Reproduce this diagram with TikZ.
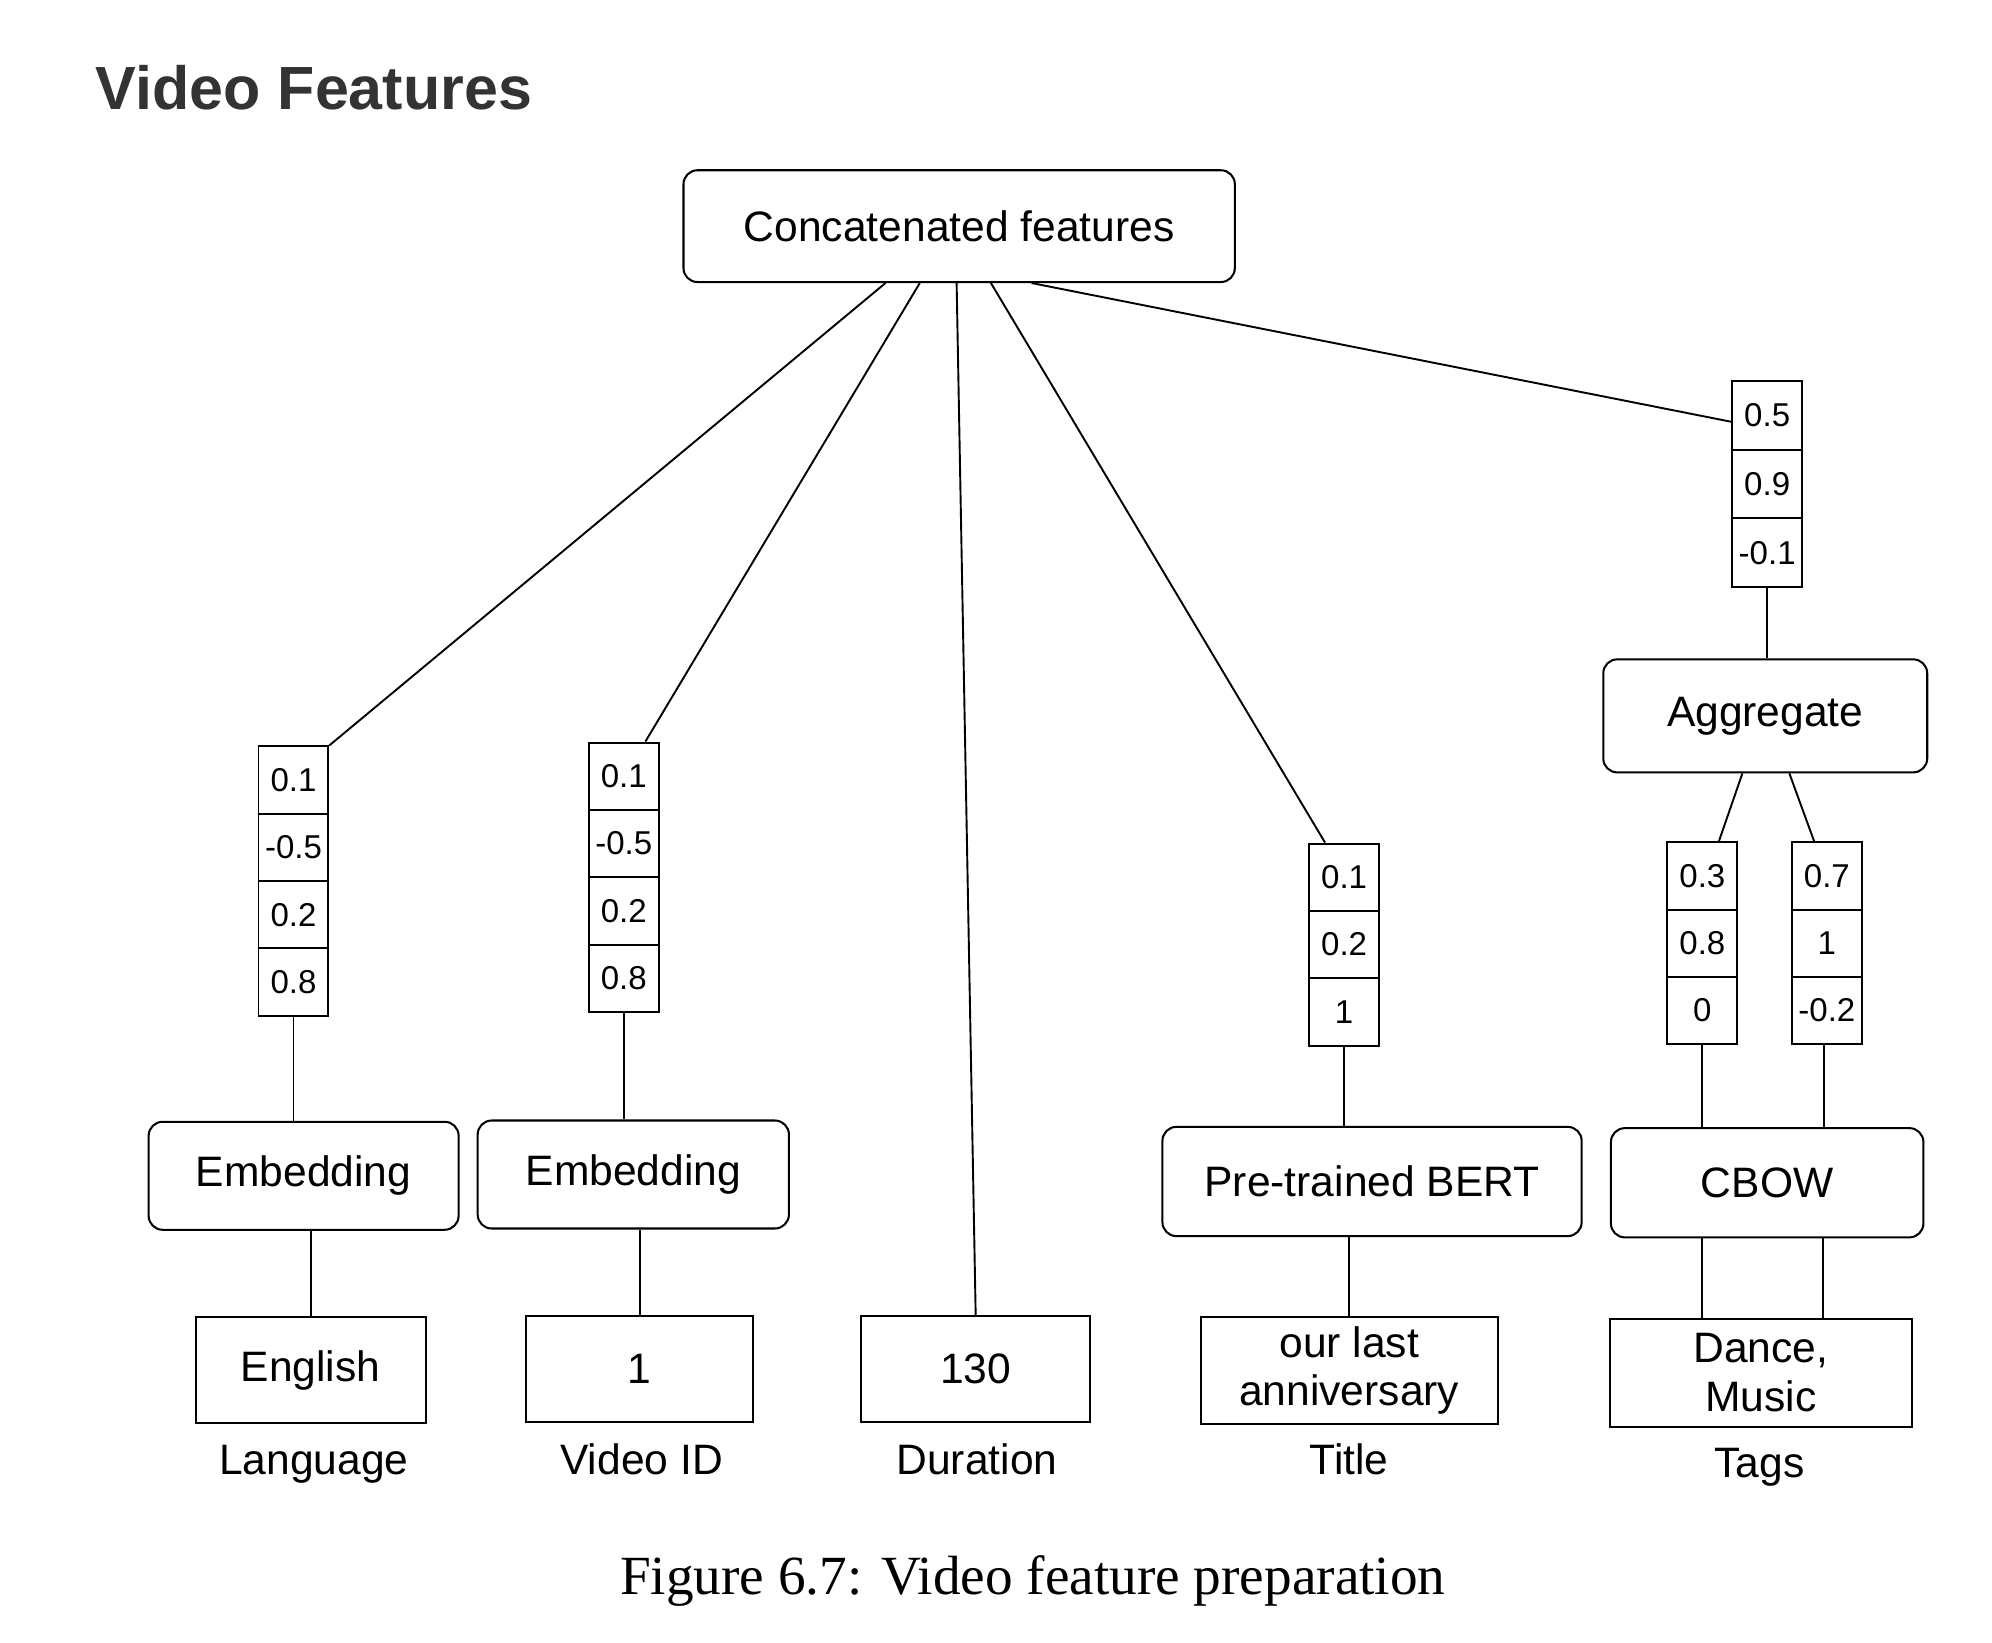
\documentclass[tikz,border=0pt]{standalone}
\usepackage{fontspec}
\setmainfont{Liberation Sans}
\newfontfamily\capfont{Liberation Serif}
\definecolor{titlegray}{HTML}{333333}
\begin{document}
\begin{tikzpicture}[x=1pt,y=-1pt,
  txt/.style={font=\fontsize{33.5}{38}\selectfont},
  rbox/.style={draw, line width=1.6pt, rounded corners=11pt, inner sep=0pt, txt},
  sbox/.style={draw, line width=1.6pt, inner sep=0pt, align=center, txt},
  cell/.style={draw, line width=1.5pt, minimum width=55pt, minimum height=53pt, inner sep=0pt, font=\fontsize{26}{30}\selectfont},
  lab/.style={txt, anchor=base},
  conn/.style={line width=1.5pt}]
\useasboundingbox[fill=white] (0,0) rectangle (1568,1292.5);

% title and caption
\node[anchor=base west, text=titlegray, font=\bfseries\fontsize{48}{56}\selectfont] (ttl) at (72,86) {Video Features};
\node[anchor=base, font=\capfont\fontsize{43.5}{50}\selectfont] (cap) at (813,1255) {Figure 6.7: Video feature preparation};

% top
\node[rbox, minimum width=434pt, minimum height=88pt] (cf) at (755,178) {Concatenated features};

% Language
\node[cell] (la1) at (231,614) {0.1};
\node[cell] (la2) at (231,667) {-0.5};
\node[cell] (la3) at (231,720) {0.2};
\node[cell] (la4) at (231,773) {0.8};
\node[rbox, minimum width=244pt, minimum height=85pt] (e1) at (239,925.5) {Embedding};
\node[sbox, minimum width=181pt, minimum height=83pt] (en) at (244.5,1078.5) {English};
\node[lab] (lan) at (247,1161) {Language};

% Video ID
\node[cell] (vi1) at (491,611) {0.1};
\node[cell] (vi2) at (491,664) {-0.5};
\node[cell] (vi3) at (491,717) {0.2};
\node[cell] (vi4) at (491,770) {0.8};
\node[rbox, minimum width=245pt, minimum height=85pt] (e2) at (498.5,924.5) {Embedding};
\node[sbox, minimum width=179pt, minimum height=83pt] (one) at (503.5,1077.5) {1};
\node[lab] (vid) at (505,1161) {Video ID};

% Duration
\node[sbox, minimum width=180pt, minimum height=83pt] (du) at (768,1077.5) {130};
\node[lab] (dul) at (769,1161) {Duration};

% Title
\node[cell] (bt1) at (1058,690.5) {0.1};
\node[cell] (bt2) at (1058,743.5) {0.2};
\node[cell] (bt3) at (1058,796.5) {1};
\node[rbox, minimum width=330pt, minimum height=86pt] (bert) at (1080,930) {Pre-trained BERT};
\node[sbox, minimum width=234pt, minimum height=84pt] (ti) at (1062,1079) {our last\\anniversary};
\node[lab] (til) at (1062,1161) {Title};

% Tags
\node[cell, minimum height=54pt] (av1) at (1391,327) {0.5};
\node[cell, minimum height=54pt] (av2) at (1391,381) {0.9};
\node[cell, minimum height=54pt] (av3) at (1391,435) {-0.1};
\node[rbox, minimum width=255pt, minimum height=89pt] (ag) at (1389.5,563.5) {Aggregate};
\node[cell] (tl1) at (1340,689.5) {0.3};
\node[cell] (tl2) at (1340,742.5) {0.8};
\node[cell] (tl3) at (1340,795.5) {0};
\node[cell] (tr1) at (1438,689.5) {0.7};
\node[cell] (tr2) at (1438,742.5) {1};
\node[cell] (tr3) at (1438,795.5) {-0.2};
\node[rbox, minimum width=246pt, minimum height=86pt] (cb) at (1391,931) {CBOW};
\node[sbox, minimum width=238pt, minimum height=85pt] (tg) at (1386,1080.5) {Dance,\\Music};
\node[lab] (tgl) at (1385,1163) {Tags};

% connectors from the top
\draw[conn] ([xshift=-58pt]cf.south) -- (la1.north east);
\draw[conn] ([xshift=-31pt]cf.south) -- ([xshift=17pt]vi1.north);
\draw[conn] ([xshift=-2pt]cf.south) -- (du.north);
\draw[conn] ([xshift=25pt]cf.south) -- ([xshift=-15pt]bt1.north);
\draw[conn] ([xshift=57pt]cf.south) -- ([yshift=-5pt]av1.west);

% vertical links
\draw[conn] (la4.south) -- (la4.south |- e1.north);
\draw[conn] (en.north |- e1.south) -- (en.north);
\draw[conn] (vi4.south) -- (vi4.south |- e2.north);
\draw[conn] (one.north |- e2.south) -- (one.north);
\draw[conn] (bt3.south) -- (bt3.south |- bert.north);
\draw[conn] (ti.north |- bert.south) -- (ti.north);
\draw[conn] (av3.south) -- (av3.south |- ag.north);
\draw[conn] ([xshift=-18pt]ag.south) -- ([xshift=13pt]tl1.north);
\draw[conn] ([xshift=19pt]ag.south) -- ([xshift=-10pt]tr1.north);
\draw[conn] (tl3.south) -- (tl3.south |- cb.north);
\draw[conn] ([xshift=-2pt]tr3.south) -- ([xshift=-2pt]tr3.south |- cb.north);
\draw[conn] (tl3.south |- cb.south) -- (tl3.south |- tg.north);
\draw[conn] ([xshift=-3pt]tr3.south |- cb.south) -- ([xshift=-3pt]tr3.south |- tg.north);
\end{tikzpicture}
\end{document}
